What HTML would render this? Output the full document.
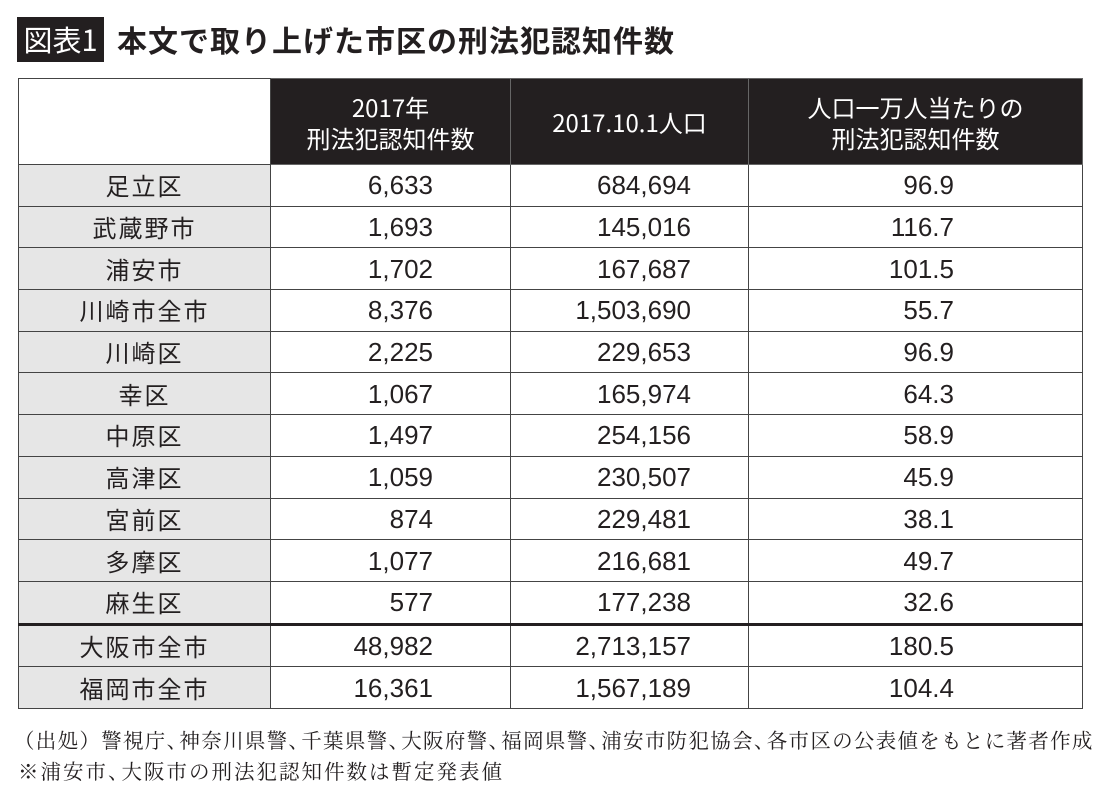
<!DOCTYPE html>
<html><head><meta charset="utf-8">
<style>
body{margin:0;width:1100px;height:790px;background:#fff;position:relative;overflow:hidden;font-family:"Liberation Sans","Noto Sans CJK JP",sans-serif;color:#231f20}
#tbox{position:absolute;left:17px;top:17px;width:87px;height:45px;background:#231f20;color:#fff;font-size:29px;line-height:45px;text-align:center;font-family:"Noto Sans CJK JP",sans-serif}
#ttl{position:absolute;left:117px;top:17px;height:45px;line-height:45px;font-size:30px;font-weight:bold;font-family:"Noto Sans CJK JP",sans-serif;letter-spacing:1px}
table{position:absolute;left:18px;top:78px;border-collapse:collapse;table-layout:fixed}
td{border:1.5px solid #444;font-size:26px;height:40.7px;padding:0;line-height:1}
td.lab{background:#e6e6e6;text-align:center;font-family:"Noto Sans CJK JP",sans-serif;font-size:24px;letter-spacing:2px}
th{background:#231f20;color:#fff;font-weight:normal;font-size:24px;line-height:31px;border:1.5px solid #666;height:83px;font-family:"Noto Sans CJK JP",sans-serif}
th.blank{background:#fff;border:1.5px solid #444}
td.n{text-align:right}
td.c2{padding-right:77px}td.c3{padding-right:57px}td.c4{padding-right:128px}
tr.thick td{border-top:3.5px solid #231f20}
.fn{position:absolute;left:14px;font-family:"Noto Serif CJK JP","Noto Serif CJK SC",serif;font-size:20.5px;white-space:nowrap}
</style></head><body>
<div id="tbox">図表1</div>
<div id="ttl">本文で取り上げた市区の刑法犯認知件数</div>
<table>
<colgroup><col style="width:252px"><col style="width:240px"><col style="width:238px"><col style="width:334px"></colgroup>
<tr><th class="blank"></th><th>2017年<br>刑法犯認知件数</th><th>2017.10.1人口</th><th>人口一万人当たりの<br>刑法犯認知件数</th></tr>
<tbody id="tb"></tbody>
</table>
<div class="fn" style="top:724px;letter-spacing:1.3px">（出処）警視庁<span style="margin-right:-9px">、</span>神奈川県警<span style="margin-right:-9px">、</span>千葉県警<span style="margin-right:-9px">、</span>大阪府警<span style="margin-right:-9px">、</span>福岡県警<span style="margin-right:-9px">、</span>浦安市防犯協会<span style="margin-right:-9px">、</span>各市区の公表値をもとに著者作成</div>
<div class="fn" style="top:755px;left:18px;letter-spacing:2px">※浦安市<span style="margin-right:-9px">、</span>大阪市の刑法犯認知件数は暫定発表値</div>
<script>
const areas=["足立区","武蔵野市","浦安市","川崎市全市","川崎区","幸区","中原区","高津区","宮前区","多摩区","麻生区","大阪市全市","福岡市全市"];
const crimes=["6,633","1,693","1,702","8,376","2,225","1,067","1,497","1,059","874","1,077","577","48,982","16,361"];
const population=["684,694","145,016","167,687","1,503,690","229,653","165,974","254,156","230,507","229,481","216,681","177,238","2,713,157","1,567,189"];
const per10k=["96.9","116.7","101.5","55.7","96.9","64.3","58.9","45.9","38.1","49.7","32.6","180.5","104.4"];
const tb=document.getElementById('tb');
areas.forEach((a,i)=>{
 const tr=document.createElement('tr');
 
 
 if(i===11)tr.className='thick';
 const cells=[[a,'lab'],[crimes[i],'n c2'],[population[i],'n c3'],[per10k[i],'n c4']];
 cells.forEach((c,j)=>{
  const td=document.createElement('td');
  td.className=c[1];td.textContent=c[0];
  
  
  tr.appendChild(td);
 });
 tb.appendChild(tr);
});
</script>
</body></html>
